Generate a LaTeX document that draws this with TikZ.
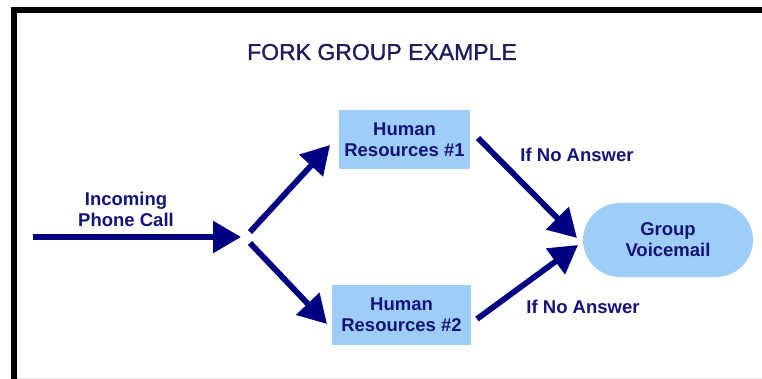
\documentclass[tikz,border=0pt]{standalone}
\usepackage{fontspec}
\setmainfont{Liberation Sans}
\newfontfamily\titlefont[FakeBold=1.2]{Liberation Sans}
\usetikzlibrary{arrows.meta}
\definecolor{navy}{HTML}{000080}
\definecolor{txtnavy}{HTML}{141478}
\definecolor{titlenavy}{HTML}{1E1E5E}
\definecolor{boxblue}{HTML}{9ECEF8}
\tikzset{
  arr/.style={draw=navy, line width=5.8pt, -{Triangle[length=28pt,width=31pt]}},
  lbl/.style={text=txtnavy, font=\fontsize{18.5}{21}\selectfont\bfseries, align=center},
  hrbox/.style={lbl, fill=boxblue, inner sep=0pt},
}
\begin{document}
\begin{tikzpicture}[x=1pt,y=-1pt]
\useasboundingbox (0,0) rectangle (762,379);
\fill[white] (0,0) rectangle (762,379);
% frame
\fill[black] (11,7) rectangle (762,13);
\fill[black] (11,7) rectangle (17,379);
\draw[gray!20, line width=1pt] (17,378) -- (762,378);
% title
\node[anchor=base, text=titlenavy, font=\titlefont\fontsize{23}{26}\selectfont] (title) at (382,60) {FORK GROUP EXAMPLE};
% nodes
\node[lbl] (incoming) at (126,209) {Incoming\\Phone Call};
\node[hrbox, minimum width=131pt, minimum height=59pt] (hr1) at (404.5,139.5) {Human\\Resources \#1};
\node[hrbox, minimum width=139pt, minimum height=60pt] (hr2) at (401.5,315) {Human\\Resources \#2};
\node[hrbox, minimum width=170pt, minimum height=74pt, rounded corners=37pt] (vm) at (668,240) {Group\\Voicemail};
\node[lbl, anchor=base] (na1) at (577,162) {If No Answer};
\node[lbl, anchor=base] (na2) at (583,313) {If No Answer};
% connector coordinates
\coordinate (inS) at (33,237);
\coordinate (fork) at (241,237);
\coordinate (upS) at (250,232);
\coordinate (upE) at (330,145);
\coordinate (dnS) at (250,243);
\coordinate (dnE) at (327,324);
\coordinate (r1S) at (478,138);
\coordinate (r1E) at (577,238);
\coordinate (r2S) at (477,319);
\coordinate (r2E) at (578,245);
% arrows
\draw[arr] (inS) -- (fork);
\draw[arr] (upS) -- (upE);
\draw[arr] (dnS) -- (dnE);
\draw[arr] (r1S) -- (r1E);
\draw[arr] (r2S) -- (r2E);
\end{tikzpicture}
\end{document}
